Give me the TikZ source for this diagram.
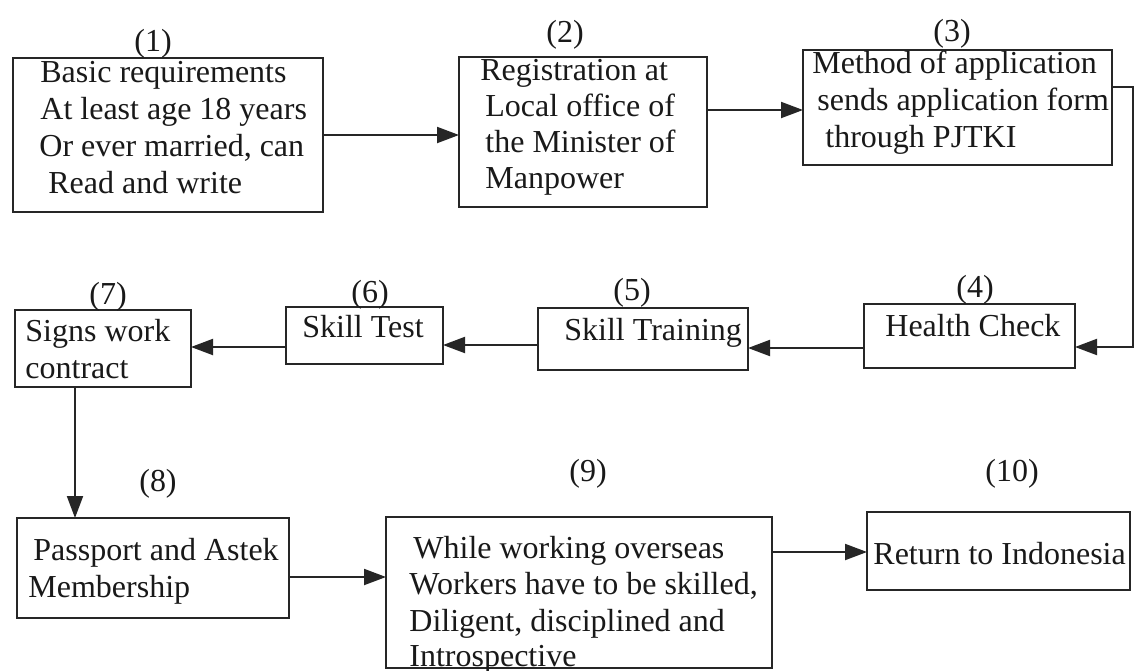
\documentclass[tikz,border=0pt]{standalone}
\usepackage{fontspec}
\setmainfont{Liberation Serif}
\usetikzlibrary{arrows.meta}
\newcommand{\fs}{\fontsize{16}{18.5}\selectfont}
\begin{document}
\begin{tikzpicture}[x=0.5pt, y=-0.5pt,
  box/.style={draw=black!85, line width=1pt, inner sep=0pt, outer sep=0pt, rectangle},
  conn/.style={draw=black!85, line width=1pt},
  arr/.style={conn, -{Triangle[length=11pt,width=8pt]}},
  txt/.style={anchor=base west, inner sep=0pt, font=\fs, text=black!90},
  lab/.style={anchor=base, inner sep=0pt, font=\fs, text=black!90}]
\useasboundingbox (0,0) rectangle (1136,670);
\fill[white] (0,0) rectangle (1136,670);

% boxes
\node[box, minimum width=155pt, minimum height=77pt]   (b1)  at (168,135)   {};
\node[box, minimum width=124pt, minimum height=75pt]   (b2)  at (583,132)   {};
\node[box, minimum width=154.5pt, minimum height=57.5pt] (b3) at (957.5,107.5) {};
\node[box, minimum width=105.5pt, minimum height=32pt] (b4)  at (969.5,336) {};
\node[box, minimum width=105pt, minimum height=31pt]   (b5)  at (643,339)   {};
\node[box, minimum width=78.5pt, minimum height=28.5pt] (b6) at (364.5,335.5) {};
\node[box, minimum width=88pt, minimum height=38.5pt]  (b7)  at (103,348.5) {};
\node[box, minimum width=136pt, minimum height=50pt]   (b8)  at (153,568)   {};
\node[box, minimum width=193pt, minimum height=75.5pt] (b9)  at (579,592.5) {};
\node[box, minimum width=131.5pt, minimum height=39pt] (b10) at (998.5,551) {};

% texts
\node[txt] (t1a) at (40,82)  {Basic requirements};
\node[txt] (t1b) at (40,119) {At least age 18 years};
\node[txt] (t1c) at (39,156) {Or ever married, can};
\node[txt] (t1d) at (48,193) {Read and write};

\node[txt] (t2a) at (480,80)  {Registration at};
\node[txt] (t2b) at (485,116) {Local office of};
\node[txt] (t2c) at (485,152) {the Minister of};
\node[txt] (t2d) at (485,188) {Manpower};

\node[txt] (t3a) at (812,73)  {Method of application};
\node[txt] (t3b) at (817,110) {sends application form};
\node[txt] (t3c) at (825,147) {through PJTKI};

\node[txt] (t4) at (885,336) {Health Check};
\node[txt] (t5) at (564,340) {Skill Training};
\node[txt] (t6) at (302,337) {Skill Test};
\node[txt] (t7a) at (25,341) {Signs work};
\node[txt] (t7b) at (25,378) {contract};

\node[txt] (t8a) at (33,560) {Passport and Astek};
\node[txt] (t8b) at (28,597) {Membership};

\node[txt] (t9a) at (413,558) {While working overseas};
\node[txt] (t9b) at (409,594) {Workers have to be skilled,};
\node[txt] (t9c) at (409,631) {Diligent, disciplined and};
\node[txt] (t9d) at (409,666) {Introspective};

\node[txt] (t10) at (873,564) {Return to Indonesia};

% step numbers
\node[lab] (n1)  at (153,51)  {(1)};
\node[lab] (n2)  at (565,42)  {(2)};
\node[lab] (n3)  at (952,41)  {(3)};
\node[lab] (n4)  at (975,297) {(4)};
\node[lab] (n5)  at (632,300) {(5)};
\node[lab] (n6)  at (370,302) {(6)};
\node[lab] (n7)  at (108,304) {(7)};
\node[lab] (n8)  at (158,491) {(8)};
\node[lab] (n9)  at (588,481) {(9)};
\node[lab] (n10) at (1012,481) {(10)};

% helper coordinates
\coordinate (h12) at (0,135);
\coordinate (h23) at (0,110);
\coordinate (h34) at (0,87);
\coordinate (c34a) at (1133,87);
\coordinate (c34b) at (1133,347);
\coordinate (h45) at (0,348);
\coordinate (h56) at (0,345);
\coordinate (h67) at (0,347);
\coordinate (v78) at (75,0);
\coordinate (h89) at (0,577);
\coordinate (h910) at (0,552);

% connectors
\draw[arr] (b1.east |- h12) -- (b2.west |- h12);
\draw[arr] (b2.east |- h23) -- (b3.west |- h23);
\draw[arr] (b3.east |- h34) -- (c34a) -- (c34b) -- (b4.east |- c34b);
\draw[arr] (b4.west |- h45) -- (b5.east |- h45);
\draw[arr] (b5.west |- h56) -- (b6.east |- h56);
\draw[arr] (b6.west |- h67) -- (b7.east |- h67);
\draw[arr] (b7.south -| v78) -- (b8.north -| v78);
\draw[arr] (b8.east |- h89) -- (b9.west |- h89);
\draw[arr] (b9.east |- h910) -- (b10.west |- h910);
\end{tikzpicture}
\end{document}
